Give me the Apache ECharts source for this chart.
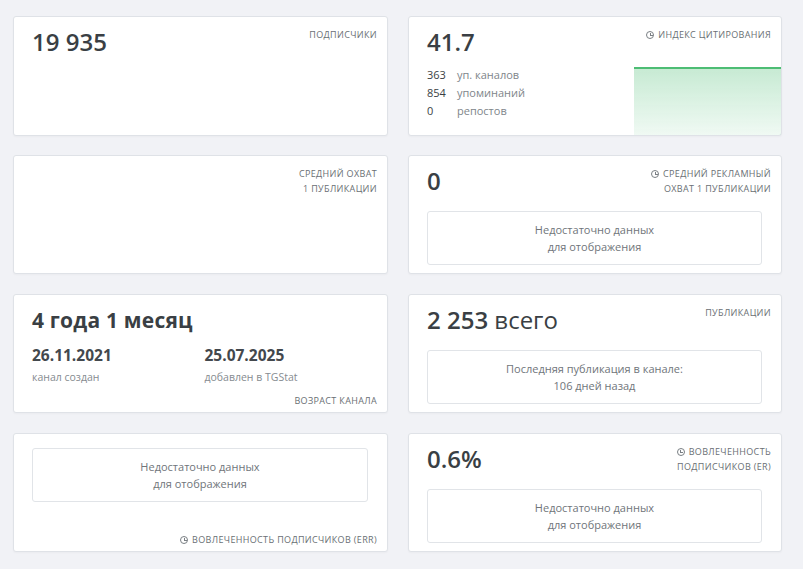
<!DOCTYPE html>
<html>
<head>
<meta charset="utf-8">
<script src="https://cdn.jsdelivr.net/npm/echarts@6/dist/echarts.min.js"></script>
<style>
  body { margin: 0; background: #f1f2f6; font-family: "Open Sans", "Noto Sans", sans-serif; width: 803px; height: 569px; overflow: hidden; }
  .card { position: absolute; box-sizing: border-box; background: #fff; border: 1px solid #dfe2e7; border-radius: 3px; padding: 10px 10px 0 18px; box-shadow: 0 1px 2px rgba(0,0,0,.03); }
  .c1 { left: 13px; width: 375px; }
  .c2 { left: 408px; width: 374px; }
  .r1 { top: 16px; height: 120px; }
  .r2 { top: 155px; height: 119px; }
  .r3 { top: 294px; height: 119px; }
  .r4 { top: 433px; height: 119px; }
  .head { display: flex; justify-content: space-between; align-items: flex-start; height: 30px; }
  .value { font-size: 24px; font-weight: 600; line-height: 30px; color: #3a3f44; }
  .value .soft { font-weight: 400; }
  .value.age { font-size: 21px; font-weight: 700; letter-spacing: 0.2px; }
  .label { font-size: 9px; line-height: 15px; color: #6a6f74; text-align: right; text-transform: uppercase; margin-left: auto; letter-spacing: 0.35px; }
  .label.bottom { position: absolute; right: 10px; bottom: 4px; }
  .ico { display: inline-block; width: 6px; height: 6px; border: 1px solid #7a7f84; border-radius: 50%; margin-right: 4px; vertical-align: -1px; position: relative; }
  .ico:after { content: ""; position: absolute; left: 2.5px; top: 1px; width: 2px; height: 2px; border-left: 1px solid #7a7f84; border-bottom: 1px solid #7a7f84; }
  .nodata { box-sizing: border-box; height: 54px; margin: 15px 9px 0 0; border: 1px solid #e1e4e8; border-radius: 3px; text-align: center; font-size: 11px; line-height: 17px; color: #70757a; padding-top: 9px; }
  .nodata.top { margin-top: 4px; }
  .stats { margin-top: 9px; font-size: 11px; line-height: 18px; }
  .stats div span:first-child { display: inline-block; width: 30px; color: #3a3f44; }
  .stats div span:last-child { color: #80858a; }
  .dates { display: flex; margin-top: 10px; }
  .dates .col { width: 182px; }
  .dates .d { font-size: 15.5px; font-weight: 700; line-height: 20px; color: #43484d; }
  .dates .t { font-size: 10.5px; line-height: 14px; color: #868b90; margin-top: 5px; }
  #citation-chart { position: absolute; right: 0; bottom: 0; width: 147px; height: 69px; }
</style>
</head>
<body>

<div class="card c1 r1">
  <div class="head"><div class="value">19 935</div><div class="label">подписчики</div></div>
</div>

<div class="card c2 r1">
  <div class="head"><div class="value">41.7</div><div class="label"><span class="ico"></span>индекс цитирования</div></div>
  <div class="stats">
    <div><span>363</span><span>уп. каналов</span></div>
    <div><span>854</span><span>упоминаний</span></div>
    <div><span>0</span><span>репостов</span></div>
  </div>
  <div id="citation-chart"></div>
</div>

<div class="card c1 r2">
  <div class="head"><div class="label">средний охват<br>1 публикации</div></div>
</div>

<div class="card c2 r2">
  <div class="head"><div class="value">0</div><div class="label"><span class="ico"></span>средний рекламный<br>охват 1 публикации</div></div>
  <div class="nodata">Недостаточно данных<br>для отображения</div>
</div>

<div class="card c1 r3">
  <div class="head"><div class="value age">4 года 1 месяц</div></div>
  <div class="dates">
    <div class="col"><div class="d">26.11.2021</div><div class="t">канал создан</div></div>
    <div class="col"><div class="d">25.07.2025</div><div class="t">добавлен в TGStat</div></div>
  </div>
  <div class="label bottom">возраст канала</div>
</div>

<div class="card c2 r3">
  <div class="head"><div class="value">2 253 <span class="soft">всего</span></div><div class="label">публикации</div></div>
  <div class="nodata">Последняя публикация в канале:<br>106 дней назад</div>
</div>

<div class="card c1 r4">
  <div class="nodata top">Недостаточно данных<br>для отображения</div>
  <div class="label bottom"><span class="ico"></span>вовлеченность подписчиков (ERR)</div>
</div>

<div class="card c2 r4">
  <div class="head"><div class="value">0.6%</div><div class="label"><span class="ico"></span>вовлеченность<br>подписчиков (ER)</div></div>
  <div class="nodata">Недостаточно данных<br>для отображения</div>
</div>

<script>
// citation index history (flat in the picture)
var citationDays = ['1', '2', '3', '4', '5', '6', '7'];
var citationValues = [41.7, 41.7, 41.7, 41.7, 41.7, 41.7, 41.7];

var citationChart = echarts.init(document.getElementById('citation-chart'));

citationChart.setOption({
  animation: false,
  grid: { left: 0, right: 0, top: 2, bottom: 0 },
  xAxis: {
    type: 'category',
    show: false,
    boundaryGap: false,
    data: citationDays
  },
  yAxis: {
    type: 'value',
    show: false,
    min: 0,
    max: 'dataMax'
  },
  series: [{
    name: 'citation',
    type: 'line',
    data: citationValues,
    symbol: 'none',
    lineStyle: { color: '#4dbd74', width: 2 },
    areaStyle: {
      color: new echarts.graphic.LinearGradient(0, 0, 0, 1, [
        { offset: 0, color: 'rgba(77,189,116,0.45)' },
        { offset: 1, color: 'rgba(77,189,116,0.12)' }
      ])
    }
  }]
});
</script>
</body>
</html>
